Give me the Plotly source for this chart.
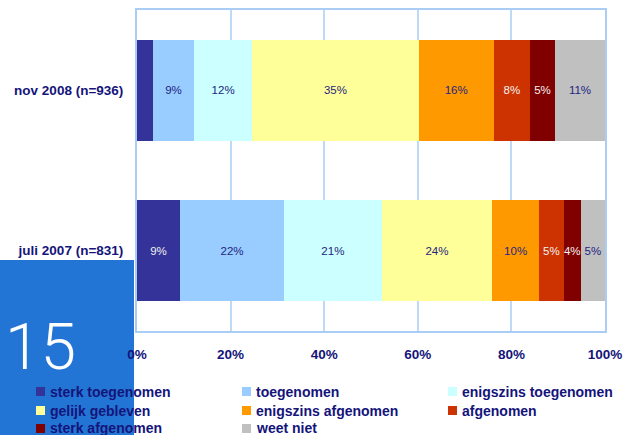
import plotly.graph_objects as go

periods = ["juli 2007 (n=831)", "nov 2008 (n=936)"]
categories = ["sterk toegenomen", "toegenomen", "enigszins toegenomen",
              "gelijk gebleven", "enigszins afgenomen", "afgenomen",
              "sterk afgenomen", "weet niet"]
colors = ["#333399", "#99CCFF", "#CCFFFF", "#FFFF99",
          "#FF9900", "#CC3300", "#800000", "#C0C0C0"]
text_colors = ["#F2F2F2", "#1F2480", "#1F2480", "#1F2480",
               "#1F2480", "#F2F2F2", "#F2F2F2", "#1F2480"]

values_juli_2007 = [9.2, 22.2, 20.9, 23.6, 10.0, 5.3, 3.6, 5.2]
values_nov_2008 = [3.4, 8.8, 12.4, 35.6, 16.0, 7.8, 5.3, 10.7]
labels_juli_2007 = ["9%", "22%", "21%", "24%", "10%", "5%", "4%", "5%"]
labels_nov_2008 = ["", "9%", "12%", "35%", "16%", "8%", "5%", "11%"]
x_ticks = [0, 20, 40, 60, 80, 100]

NAVY = "#14147A"
FONT = "Liberation Sans, Arial, sans-serif"

fig = go.Figure()
for i, cat in enumerate(categories):
    fig.add_trace(go.Bar(
        y=periods,
        x=[values_juli_2007[i], values_nov_2008[i]],
        orientation="h",
        name=cat,
        marker=dict(color=colors[i], line=dict(width=0)),
        text=[labels_juli_2007[i], labels_nov_2008[i]],
        textposition="inside",
        insidetextanchor="middle",
        textangle=0,
        constraintext="none",
        textfont=dict(family=FONT, size=11.5, color=text_colors[i]),
        showlegend=False,
        hoverinfo="skip",
    ))

W, H = 623, 435
L, R, T, B = 137, 18, 10, 104
fig.update_layout(
    width=W, height=H,
    barmode="stack", barnorm="percent", bargap=0.37,
    margin=dict(l=L, r=R, t=T, b=B, pad=0, autoexpand=False),
    plot_bgcolor="white", paper_bgcolor="white",
    font=dict(family=FONT, color=NAVY),
    xaxis=dict(range=[0, 100], tickvals=x_ticks,
               ticktext=[f"{v}%" for v in x_ticks],
               showgrid=True, gridcolor="#BFDAF7", gridwidth=1.5,
               showline=True, mirror=True, linecolor="#A9CDF5", linewidth=2,
               ticks="outside", ticklen=10, tickcolor="rgba(0,0,0,0)",
               tickfont=dict(family=FONT, size=13.5, color=NAVY, weight="bold"),
               zeroline=False, fixedrange=True, automargin=False),
    yaxis=dict(categoryorder="array", categoryarray=periods,
               range=[-0.5, 1.5],
               showline=True, mirror=True, linecolor="#A9CDF5", linewidth=2,
               ticks="outside", ticklen=9, tickcolor="rgba(0,0,0,0)",
               tickfont=dict(family=FONT, size=13.5, color=NAVY, weight="bold"),
               showgrid=False, fixedrange=True, automargin=False),
)

# blue corner block with slide number (drawn beneath axis labels)
pw, ph = W - L - R, H - T - B
fig.add_shape(type="rect", xref="paper", yref="paper",
              x0=-L / pw, x1=(134 - L) / pw,
              y0=-B / ph, y1=-(260 - (H - B)) / ph,
              fillcolor="#2274D5", line=dict(width=0), layer="below")
fig.add_annotation(x=(40 - L) / pw, y=-(348 - (H - B)) / ph,
                   xref="paper", yref="paper", text="15", showarrow=False,
                   font=dict(family="Roboto, Liberation Sans", size=64,
                             color="white", weight=300),
                   xanchor="center", yanchor="middle")

# legend (3 columns)
col_x = [36, 242, 448]
row_y = [391.5, 410.5, 428.5]
for i, cat in enumerate(categories):
    cx = col_x[i % 3]
    cy = row_y[i // 3]
    fig.add_shape(type="rect", xref="paper", yref="paper",
                  x0=(cx - L) / pw, x1=(cx + 9 - L) / pw,
                  y0=-(cy + 4.5 - (H - B)) / ph, y1=-(cy - 4.5 - (H - B)) / ph,
                  fillcolor=colors[i], line=dict(width=0), layer="above")
    fig.add_annotation(x=(cx + 12 - L) / pw, y=-(cy - (H - B)) / ph,
                       xref="paper", yref="paper", text=cat, showarrow=False,
                       xanchor="left", yanchor="middle",
                       font=dict(family=FONT, size=14, color=NAVY, weight="bold"))

fig.write_html("out.html",
               config={"displayModeBar": False},
               post_script="document.body.style.margin='0';"
                           "document.body.style.overflow='hidden';")
